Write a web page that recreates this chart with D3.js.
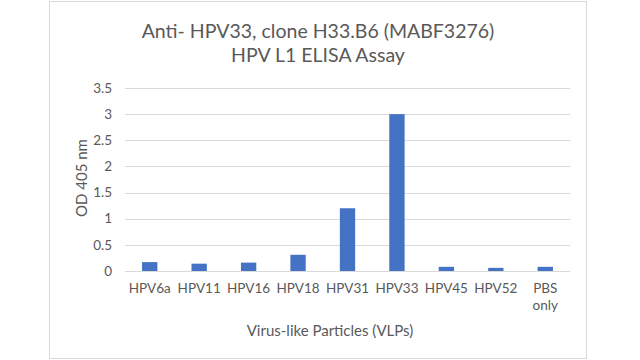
<!DOCTYPE html>
<html><head><meta charset="utf-8">
<script src="https://cdn.jsdelivr.net/npm/d3@7"></script>
<style>body{margin:0;background:#fff}svg{display:block}text{font-family:Lato,"Open Sans",sans-serif}</style>
</head><body>
<svg id="c" width="640" height="360"></svg>
<script>
const categories = ["HPV6a","HPV11","HPV16","HPV18","HPV31","HPV33","HPV45","HPV52","PBS only"];
const values = [0.17,0.14,0.16,0.31,1.2,3.0,0.08,0.06,0.08];
const yTicks = [0,0.5,1,1.5,2,2.5,3,3.5];
const titleLines = ["Anti- HPV33, clone H33.B6 (MABF3276)","HPV L1 ELISA Assay"];
const xTitle = "Virus-like Particles (VLPs)";
const yTitle = "OD 405 nm";

const svg = d3.select("#c");
const grey = "#595959";
// chart border
svg.append("rect").attr("x",49.5).attr("y",1.5).attr("width",537).attr("height",357)
  .attr("fill","#fff").attr("stroke","#d9d9d9");

const x = d3.scaleBand().domain(categories).range([125,570]).paddingInner(0.69).paddingOuter(0.345);
const y = d3.scaleLinear().domain([0,3.5]).range([271,88]);

// gridlines
svg.append("g").selectAll("line").data(yTicks).join("line")
  .attr("x1",125).attr("x2",570).attr("y1",d=>Math.round(y(d))+0.5).attr("y2",d=>Math.round(y(d))+0.5)
  .attr("stroke","#d9d9d9").attr("stroke-width",1.2);

// y tick labels
svg.append("g").selectAll("text").data(yTicks).join("text")
  .attr("x",112).attr("y",d=>y(d)).attr("dy","0.35em").attr("text-anchor","end")
  .attr("fill",grey).attr("font-size",13.5).text(d=>d);

// bars
svg.append("g").selectAll("rect").data(values).join("rect")
  .attr("x",(d,i)=>x(categories[i])).attr("width",x.bandwidth())
  .attr("y",d=>y(d)).attr("height",d=>y(0)-y(d)).attr("fill","#4472C4");

// x tick labels
const xl = svg.append("g").selectAll("text").data(categories).join("text")
  .attr("x",d=>x(d)+x.bandwidth()/2).attr("y",293).attr("text-anchor","middle")
  .attr("fill",grey).attr("font-size",13.5);
xl.each(function(d){
  const parts = d.split(" ");
  const t = d3.select(this);
  parts.forEach((p,j)=>t.append("tspan").attr("x",x(d)+x.bandwidth()/2).attr("dy",j?17:0).text(p));
});

// axis titles
svg.append("text").attr("x",330).attr("y",336).attr("text-anchor","middle")
  .attr("fill",grey).attr("font-size",15).text(xTitle);
svg.append("text").attr("transform","translate(87,178) rotate(-90)").attr("text-anchor","middle")
  .attr("fill",grey).attr("font-size",15).text(yTitle);

// title
svg.append("g").selectAll("text").data(titleLines).join("text")
  .attr("x",318).attr("y",(d,i)=>38+i*24).attr("text-anchor","middle")
  .attr("fill",grey).attr("font-size",19.5).text(d=>d);
</script>
</body></html>
